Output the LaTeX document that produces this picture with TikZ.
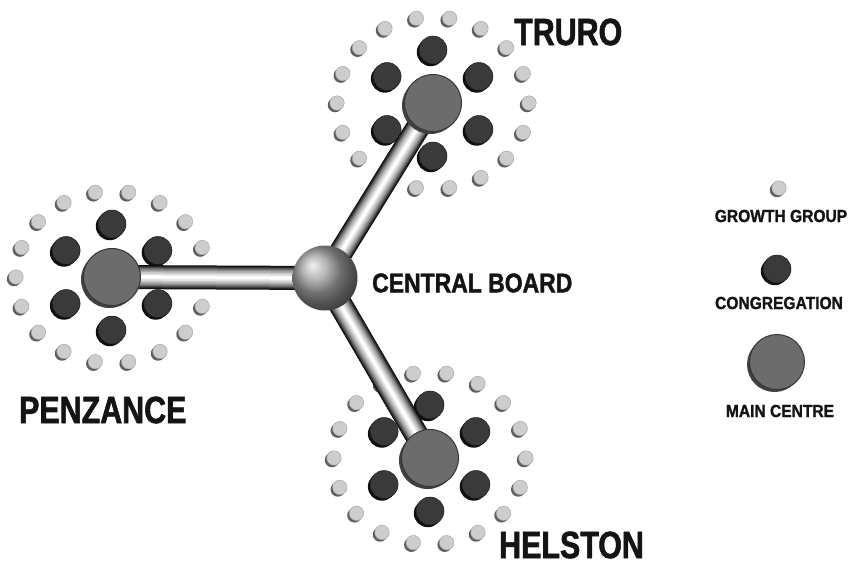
\documentclass[tikz,border=0pt]{standalone}
\usepackage{fontspec}
\newfontfamily\labfont[FakeStretch=0.8,BoldFeatures={FakeBold=1.5}]{Liberation Sans}
\newfontfamily\midfont[FakeStretch=0.85,BoldFeatures={FakeBold=1.5}]{Liberation Sans}
\newfontfamily\legfont[FakeStretch=0.89,BoldFeatures={FakeBold=1.3}]{Liberation Sans}
\usetikzlibrary{shadows}
\definecolor{ggfill}{RGB}{205,205,205}
\definecolor{ggshadow}{RGB}{95,95,95}
\definecolor{congfill}{RGB}{58,58,58}
\definecolor{congshadow}{RGB}{15,15,15}
\definecolor{mainfill}{RGB}{108,108,108}
\definecolor{maindraw}{RGB}{55,55,55}
\pgfdeclarelayer{bglayer}
\pgfdeclarelayer{ringlayer}
\pgfdeclarelayer{rodlayer}
\pgfsetlayers{bglayer,ringlayer,rodlayer,main}
\tikzset{
  growth/.style={circle,inner sep=0pt,minimum size=14.5pt,fill=ggfill,draw=ggshadow!60,line width=0.4pt,
    general shadow={fill=ggshadow,shadow xshift=-2pt,shadow yshift=-2pt}},
  cong/.style={circle,inner sep=0pt,minimum size=28pt,fill=congfill,draw=black!90,line width=0.5pt,
    general shadow={fill=congshadow,shadow xshift=-2.2pt,shadow yshift=-2.2pt}},
  maincentre/.style={circle,inner sep=0pt,minimum size=57pt,fill=mainfill,draw=maindraw,line width=1pt,
    general shadow={fill=black!75,shadow xshift=-2.5pt,shadow yshift=-2.5pt}},
  hub/.style={circle,inner sep=0pt,minimum size=65pt,shading=ball,ball color=gray!75},
  lab/.style={inner sep=0pt,text=black!92},
  biglab/.style={lab,font=\labfont\bfseries\fontsize{38}{38}\selectfont,anchor=west},
  midlab/.style={lab,font=\midfont\bfseries\fontsize{27}{27}\selectfont,anchor=west},
  leglab/.style={lab,font=\legfont\bfseries\fontsize{17.5}{17.5}\selectfont},
}
\newcommand\mycluster[2]{%
  \begin{pgfonlayer}{ringlayer}
    \begin{scope}[shift={(#2)}]
      \foreach \k in {0,...,17}
        \node[growth] (#1-g\k) at ({96*cos(20*\k)},{86*sin(20*\k)}) {};
      \foreach \k in {0,...,5}
        \node[cong] (#1-c\k) at ({53*cos(30+60*\k)},{53*sin(30+60*\k)}) {};
    \end{scope}
  \end{pgfonlayer}
  \node[maincentre] (#1) at (#2) {};
}
\begin{document}
\begin{tikzpicture}[x=1pt,y=-1pt]
\begin{pgfonlayer}{bglayer}
\fill[white] (0,0) rectangle (848,566);
\end{pgfonlayer}
\useasboundingbox (0,0) rectangle (848,566);

\mycluster{tr}{433,103}
\mycluster{pz}{112,277}
\mycluster{hl}{430,458}

\node[hub] (central) at (325,278) {};

\begin{pgfonlayer}{rodlayer}
  \foreach \t in {tr,pz,hl}{
    \foreach \w/\c in {24/black!95,22/black!85,20/black!72,18/black!58,15.5/black!45,13/black!33,10/black!22,7/black!12,4/black!4,2/white}
      \draw[line width=\w pt,color=\c] (central.center) -- (\t.center);
  }
\end{pgfonlayer}

\node[biglab] (trlab) at (514,32) {TRURO};
\node[biglab] (pzlab) at (19,410) {PENZANCE};
\node[biglab] (hllab) at (499,545) {HELSTON};
\node[midlab] (cblab) at (372,283) {CENTRAL BOARD};

% legend
\node[growth] (lgg) at (779,188) {};
\node[leglab] (lgglab) at (781,216) {GROWTH GROUP};
\node[cong] (lcong) at (777,269) {};
\node[leglab] (lconglab) at (779,303) {CONGREGATION};
\node[maincentre,minimum size=55pt] (lmain) at (777,362) {};
\node[leglab] (lmainlab) at (780,411) {MAIN CENTRE};
\end{tikzpicture}
\end{document}
